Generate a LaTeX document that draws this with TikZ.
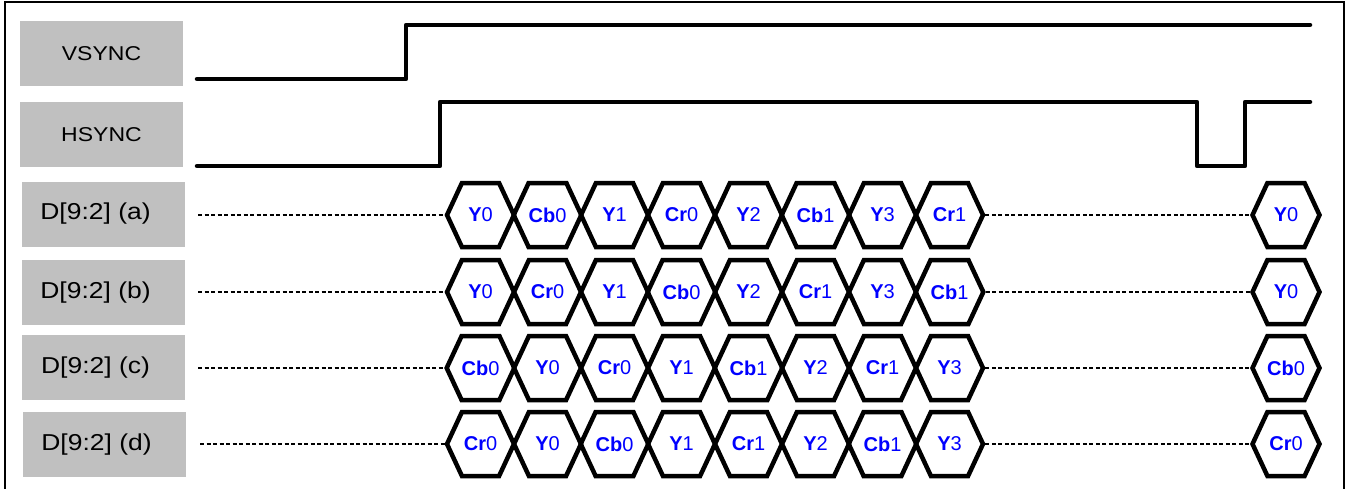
\documentclass[tikz,border=0pt]{standalone}
\usepackage{fontspec}
\setmainfont{Liberation Sans}
\usetikzlibrary{shapes.symbols}
\definecolor{boxgray}{HTML}{C0C0C0}
\definecolor{datablue}{HTML}{0000FF}
\newcommand{\widetxt}[1]{\scalebox{1.15}[1]{#1}}
\begin{document}
\begin{tikzpicture}[x=1pt,y=-1pt,
 lblbox/.style={fill=boxgray, minimum width=163pt, minimum height=65pt, inner sep=0pt, font=\fontsize{20}{23}\selectfont},
 dlbl/.style={lblbox, font=\fontsize{23}{26}\selectfont},
 wave/.style={line width=4.5pt, line join=round, line cap=round},
 hexcell/.style={signal, signal to=east and west, signal pointer angle=130, draw, line width=4.5pt, minimum width=67pt, minimum height=64pt, inner sep=0pt, text=datablue, font=\fontsize{20}{23}\selectfont, line join=miter},
 hextext/.style={text=datablue, font=\fontsize{20}{23}\selectfont},
 idle/.style={dash pattern=on 4pt off 2.5pt, line width=2.4pt}
]
\useasboundingbox (0,0) rectangle (1347,488);
\draw[line width=2pt] (5,500) -- (5,2) -- (1344,2) -- (1344,500);

% labels
\node[lblbox] (lv) at (101.5,53.5) {\widetxt{VSYNC}};
\node[lblbox] (lh) at (101.5,134.5) {\widetxt{HSYNC}};
\node[dlbl] (la) at (103.5,214) {\widetxt{D[9:2] (a)}\hspace*{16pt}};
\node[dlbl] (lb) at (103.5,292.5) {\widetxt{D[9:2] (b)}\hspace*{16pt}};
\node[dlbl] (lc) at (103.5,367.5) {\widetxt{D[9:2] (c)}\hspace*{16pt}};
\node[dlbl] (ld) at (104.5,444.5) {\widetxt{D[9:2] (d)}\hspace*{16pt}};

% waveforms
\coordinate (vs) at (197,79);
\coordinate (ve) at (1310,25);
\draw[wave] (vs) -- (406,79) -- (406,25) -- (ve);
\coordinate (hs) at (197,166);
\coordinate (he) at (1310,102);
\draw[wave] (hs) -- (440,166) -- (440,102) -- (1197,102) -- (1197,166) -- (1245,166) -- (1245,102) -- (he);

% data rows
\foreach \r/\yy/\xs/\cells in {
  a/215/198/{Y/0,Cb/0,Y/1,Cr/0,Y/2,Cb/1,Y/3,Cr/1},
  b/292/198/{Y/0,Cr/0,Y/1,Cb/0,Y/2,Cr/1,Y/3,Cb/1},
  c/368/198/{Cb/0,Y/0,Cr/0,Y/1,Cb/1,Y/2,Cr/1,Y/3},
  d/444/200/{Cr/0,Y/0,Cb/0,Y/1,Cr/1,Y/2,Cb/1,Y/3}}{
  \foreach \L/\D [count=\i] in \cells {
    \node[hexcell] (\r\i) at ({447+33.5+67*(\i-1)},\yy) {\textbf{\L}\D};
  }
  \node[hexcell] (\r9) at (1286,\yy) {};
  \coordinate (\r0) at (\xs,\yy);
  \draw[idle] (\r0) -- (\r1.west);
  \draw[idle] (\r8.east) -- (\r9.west);
}
\node[hextext] at (a9) {\textbf{Y}0};
\node[hextext] at (b9) {\textbf{Y}0};
\node[hextext] at (c9) {\textbf{Cb}0};
\node[hextext] at (d9) {\textbf{Cr}0};
\end{tikzpicture}
\end{document}
